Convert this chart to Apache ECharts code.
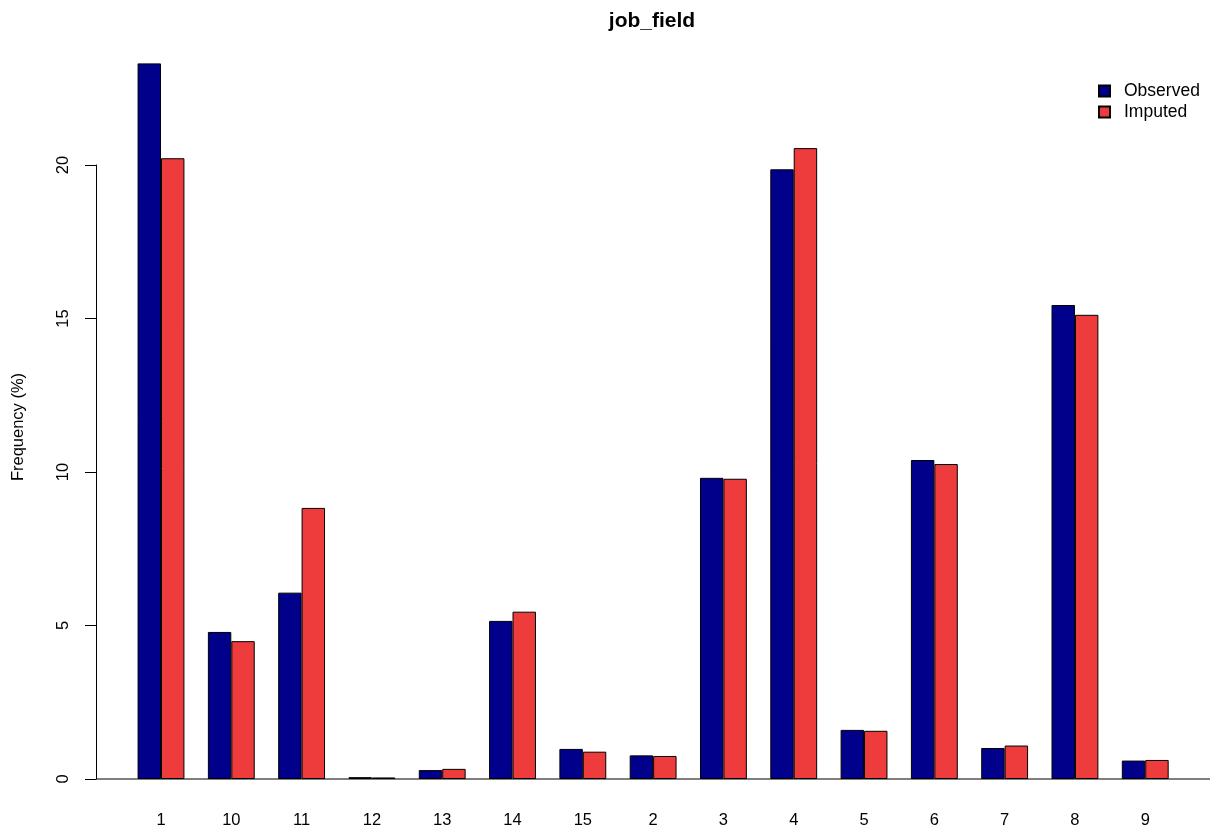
<!DOCTYPE html>
<html>
<head>
<meta charset="utf-8">
<script src="https://cdn.jsdelivr.net/npm/echarts@6/dist/echarts.min.js"></script>
<style>
  html, body { margin: 0; padding: 0; background: #fff; }
  #chart { width: 1210px; height: 839px; }
</style>
</head>
<body>
<div id="chart"></div>
<script>
// Category levels of job_field, in the order they are plotted
const categories = ['1', '10', '11', '12', '13', '14', '15', '2', '3', '4', '5', '6', '7', '8', '9'];
// Frequency (%) of each level
const observed = [23.31, 4.79, 6.07, 0.06, 0.29, 5.15, 0.98, 0.77, 9.81, 19.86, 1.60, 10.39, 1.01, 15.44, 0.60];
const imputed  = [20.22, 4.49, 8.83, 0.05, 0.33, 5.45, 0.89, 0.75, 9.78, 20.55, 1.57, 10.26, 1.09, 15.12, 0.62];
const yTicks = [0, 5, 10, 15, 20];

const FONT = '"Liberation Sans", Arial, Helvetica, sans-serif';
const BASE = 16.5;
const chart = echarts.init(document.getElementById('chart'), null, { renderer: 'canvas' });

const barStyle = (color) => ({ color: color, borderColor: '#000', borderWidth: 1 });

chart.setOption({
  animation: false,
  backgroundColor: '#fff',
  title: {
    text: 'job_field',
    left: 647,
    textAlign: 'center',
    top: 6,
    textStyle: { fontFamily: FONT, fontWeight: 'bold', fontSize: 21, color: '#000' }
  },
  legend: {
    orient: 'vertical',
    left: 1093,
    top: 77,
    icon: 'rect',
    itemWidth: 11,
    itemHeight: 11,
    itemGap: 3,
    textStyle: { fontFamily: FONT, fontSize: 17.5, color: '#000', padding: [0, 0, 0, 9] },
    data: ['Observed', 'Imputed']
  },
  grid: { left: 125.85, right: 29.6, top: 165, bottom: 60, containLabel: false },
  xAxis: {
    type: 'category',
    data: categories,
    boundaryGap: true,
    axisLine: { show: false },
    axisTick: { show: false },
    axisLabel: { fontFamily: FONT, fontSize: BASE, color: '#000', margin: 33, interval: 0 },
    splitLine: { show: false }
  },
  yAxis: {
    type: 'value',
    min: yTicks[0],
    max: yTicks[yTicks.length - 1],
    interval: 5,
    offset: 29.85,
    axisLine: { show: true, lineStyle: { color: '#000', width: 1 } },
    axisTick: { show: true, length: 11, lineStyle: { color: '#000', width: 1 } },
    axisLabel: { rotate: 90, fontFamily: FONT, fontSize: BASE, color: '#000', margin: 24 },
    splitLine: { show: false }
  },
  series: [
    {
      name: 'Observed',
      type: 'bar',
      data: observed,
      barWidth: 23.43,
      barGap: '0%',
      clip: false,
      itemStyle: barStyle('#00008B')
    },
    {
      name: 'Imputed',
      type: 'bar',
      data: imputed,
      barWidth: 23.43,
      barGap: '0%',
      clip: false,
      itemStyle: barStyle('#EE3B3B')
    }
  ]
});

// Baseline at zero running across the full plot width, plus the y-axis title
const y0 = chart.convertToPixel({ yAxisIndex: 0 }, 0);
chart.setOption({
  graphic: [
    {
      type: 'line',
      shape: { x1: 96, y1: y0, x2: 1210, y2: y0 },
      style: { stroke: '#000', lineWidth: 1.2 },
      z: 10
    },
    {
      type: 'text',
      x: 18,
      y: 427,
      rotation: Math.PI / 2,
      style: {
        text: 'Frequency (%)',
        font: BASE + 'px ' + FONT,
        fill: '#000',
        align: 'center',
        verticalAlign: 'middle'
      }
    }
  ]
});
</script>
</body>
</html>
